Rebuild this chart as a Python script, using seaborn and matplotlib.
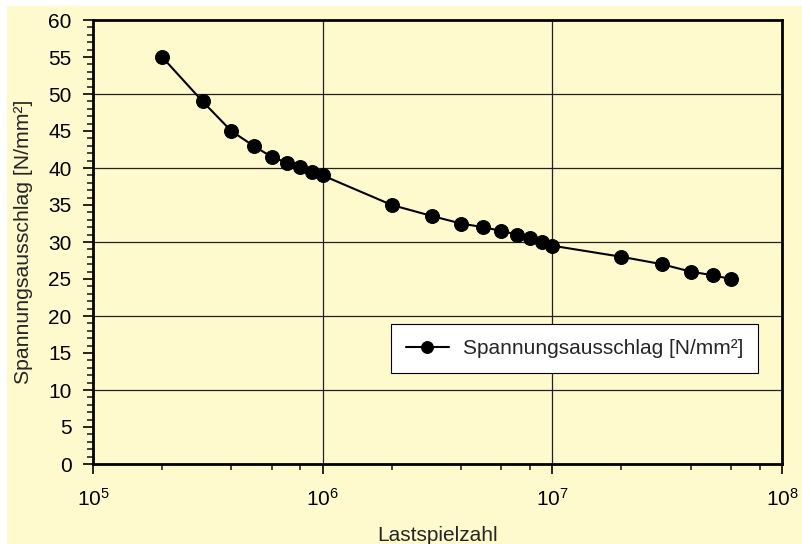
import numpy as np
import pandas as pd
import matplotlib
matplotlib.use("Agg")
import matplotlib.pyplot as plt
import matplotlib.ticker as mticker
from matplotlib.patches import Rectangle
import seaborn as sns

cycles = [2e5, 3e5, 4e5, 5e5, 6e5, 7e5, 8e5, 9e5, 1e6,
          2e6, 3e6, 4e6, 5e6, 6e6, 7e6, 8e6, 9e6, 1e7,
          2e7, 3e7, 4e7, 5e7, 6e7]
stress = [55, 49, 45, 43, 41.5, 40.7, 40.2, 39.5, 39,
          35, 33.5, 32.5, 32, 31.5, 31, 30.5, 30, 29.5,
          28, 27, 26, 25.5, 25]
series_label = "Spannungsausschlag [N/mm²]"
x_label = "Lastspielzahl"
y_label = "Spannungsausschlag [N/mm²]"

sns.set_style("ticks")
plt.rcParams['font.family'] = ['Liberation Sans', 'DejaVu Sans']
plt.rcParams['mathtext.fontset'] = 'custom'
plt.rcParams['mathtext.rm'] = 'Liberation Sans'

bg = '#FFFACD'
fig = plt.figure(figsize=(8.02, 5.44), dpi=100)
fig.patch.set_facecolor('white')
fig.patches.append(Rectangle((7/802, 0), 1 - 7/802, 1 - 6/544, transform=fig.transFigure,
                             facecolor=bg, edgecolor='none', zorder=-10))
ax = fig.add_axes([93/802, 1 - 464/544, (782 - 93)/802, (464 - 20)/544])
ax.set_facecolor(bg)

df = pd.DataFrame({"x": cycles, "y": stress})
sns.lineplot(data=df, x="x", y="y", ax=ax, color='black', linewidth=1.5,
             marker='o', markersize=10, markeredgecolor='black',
             label=series_label, zorder=5)

ax.set_xscale('log')
ax.set_xlim(1e5, 1e8)
ax.set_ylim(0, 60)
ax.xaxis.set_major_locator(mticker.FixedLocator([1e5, 1e6, 1e7, 1e8]))
ax.xaxis.set_major_formatter(mticker.FuncFormatter(lambda v, p: r'$\mathregular{10^{%d}}$' % round(np.log10(v))))
ax.xaxis.set_minor_locator(mticker.LogLocator(base=10, subs=[2, 4, 6, 8]))
ax.xaxis.set_minor_formatter(mticker.NullFormatter())
ax.yaxis.set_major_locator(mticker.MultipleLocator(5))
ax.yaxis.set_minor_locator(mticker.MultipleLocator(1))

for y in range(10, 60, 10):
    ax.axhline(y, color='#222222', linewidth=0.9, zorder=1)
for x in [1e6, 1e7]:
    ax.axvline(x, color='#222222', linewidth=0.9, zorder=1)

for s in ax.spines.values():
    s.set_linewidth(2)
    s.set_color('black')
    s.set_visible(True)

ax.tick_params(axis='both', which='major', direction='out', length=7, width=1.2,
               labelsize=15, colors='black')
ax.tick_params(axis='both', which='minor', direction='out', length=4, width=1.2)
ax.tick_params(axis='x', which='major', pad=10)
ax.tick_params(axis='y', which='major', pad=8.5)

ax.set_xlabel(x_label, fontsize=15)
ax.set_ylabel(y_label, fontsize=15.3)
ax.xaxis.set_label_coords(0.5, -0.14)
ax.yaxis.set_label_coords(-0.087, 0.5)

leg = ax.legend(loc='upper right', bbox_to_anchor=(0.965, 0.315), frameon=True,
                borderaxespad=0, fancybox=False, fontsize=15, handlelength=2.05,
                handletextpad=0.67, borderpad=0.72, markerscale=0.85,
                facecolor='white', edgecolor='black', framealpha=1)
leg.get_frame().set_linewidth(0.8)

fig.savefig('out.png', dpi=100, facecolor=fig.get_facecolor())
